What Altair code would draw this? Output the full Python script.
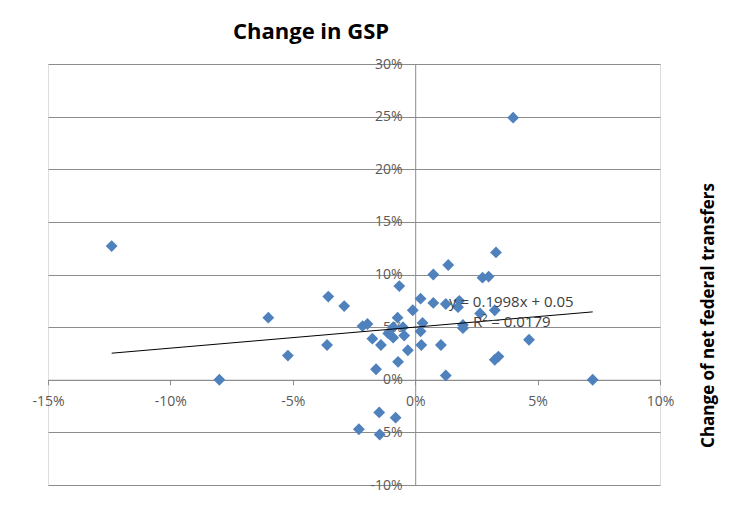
import altair as alt
import pandas as pd

# Change in GSP (x) vs change of net federal transfers (y), as fractions
gsp_change = [-0.124, -0.080, -0.060, -0.052, -0.0355, -0.036, -0.029, -0.0215, -0.0195, -0.0175,
              -0.014, -0.016, -0.0065, -0.0072, -0.009, -0.005, -0.009, -0.0045, -0.011, -0.003,
              -0.007, -0.001, 0.0022, 0.0074, 0.0135, 0.0074, 0.0125, 0.018, 0.0175, 0.003,
              0.0022, 0.0025, 0.0105, 0.0125, 0.0195, 0.0195, 0.0265, 0.0275, 0.030, 0.033,
              0.0325, 0.0325, 0.034, 0.0465, 0.040, 0.0725, -0.0147, -0.008, -0.023, -0.0145]
transfer_change = [0.127, 0.000, 0.059, 0.023, 0.079, 0.033, 0.070, 0.051, 0.053, 0.039,
                   0.033, 0.010, 0.089, 0.059, 0.050, 0.050, 0.040, 0.042, 0.044, 0.028,
                   0.017, 0.066, 0.077, 0.100, 0.109, 0.073, 0.072, 0.075, 0.069, 0.054,
                   0.046, 0.033, 0.033, 0.004, 0.052, 0.049, 0.063, 0.097, 0.098, 0.121,
                   0.066, 0.019, 0.022, 0.038, 0.249, 0.000, -0.031, -0.036, -0.047, -0.052]

# Linear trendline shown in the chart
slope = 0.1998
intercept = 0.05
eq_labels = ["y = 0.1998x + 0.05", "R\u00b2 = 0.0179"]
eq_x = [0.0138, 0.0236]
eq_y = [0.0739, 0.0549]

x_ticks = [-0.15, -0.10, -0.05, 0.0, 0.05, 0.10]
y_ticks = [-0.10, -0.05, 0.0, 0.05, 0.10, 0.15, 0.20, 0.25, 0.30]

W, H = 612, 421
x_dom = [-0.15, 0.10]
y_dom = [-0.10, 0.30]

# pixel offsets so the axes cross at zero
x0_px = (0 - x_dom[0]) / (x_dom[1] - x_dom[0]) * W
y0_px = (y_dom[1] - 0) / (y_dom[1] - y_dom[0]) * H

pts = pd.DataFrame({"x": gsp_change, "y": transfer_change})
trend = pd.DataFrame({"x": [min(gsp_change), max(gsp_change)]})
trend["y"] = slope * trend["x"] + intercept
eq = pd.DataFrame({"x": eq_x, "y": eq_y, "label": eq_labels})

xs = alt.Scale(domain=x_dom, nice=False, zero=False)
ys = alt.Scale(domain=y_dom, nice=False, zero=False)

grid_col = "#8c8c8c"
lab_col = "#595959"
font = "Open Sans"
hyphen = "replace(datum.label, '\u2212', '-')"

x_enc = alt.X("x:Q", scale=xs, title=None,
              axis=alt.Axis(values=x_ticks, format=".0%", grid=False, orient="bottom",
                            offset=-(H - y0_px), domainColor=grid_col, tickColor=grid_col,
                            tickSize=5, labelPadding=10, labelColor=lab_col, labelFontSize=14,
                            labelFont=font, labelFlush=False, labelExpr=hyphen))

scatter = alt.Chart(pts).mark_point(
    shape="diamond", filled=True, size=140, color="#4F81BD", opacity=1
).encode(
    x=x_enc,
    y=alt.Y("y:Q", scale=ys, title=None,
            axis=alt.Axis(values=y_ticks, format=".0%", grid=True, gridColor=grid_col,
                          orient="left", offset=-x0_px, ticks=False, domainColor=grid_col,
                          labelPadding=13, labelColor=lab_col, labelFontSize=14,
                          labelFont=font, labelExpr=hyphen)),
)

line = alt.Chart(trend).mark_line(color="black", strokeWidth=1).encode(
    x=x_enc,
    y=alt.Y("y:Q", scale=ys,
            axis=alt.Axis(orient="right", labels=False, ticks=False, domain=False, grid=False,
                          title="Change of net federal transfers", titleAngle=270,
                          titleX=48, titleY=251, titleAlign="center", titleBaseline="middle",
                          titleFont=font, titleFontSize=17, titleFontWeight="bold",
                          titleColor="black")),
)

text = alt.Chart(eq).mark_text(
    align="left", baseline="middle", fontSize=15, font=font, color="#404040"
).encode(
    x=x_enc,
    y=alt.Y("y:Q", scale=ys, axis=None),
    text="label:N",
)

chart = alt.layer(scatter, line, text).resolve_axis(y="independent").properties(
    width=W, height=H,
    title=alt.TitleParams("Change in GSP", anchor="start", frame="group", dx=185,
                          offset=-4, baseline="alphabetic", font=font, fontSize=22,
                          fontWeight="bold", color="black"),
    autosize=alt.AutoSizeParams(type="none"),
    padding={"left": 40, "top": 56, "right": 88, "bottom": 10},
).configure_view(stroke=None).configure(background="white")

chart.save("out.html", embed_options={"renderer": "svg", "actions": False})
